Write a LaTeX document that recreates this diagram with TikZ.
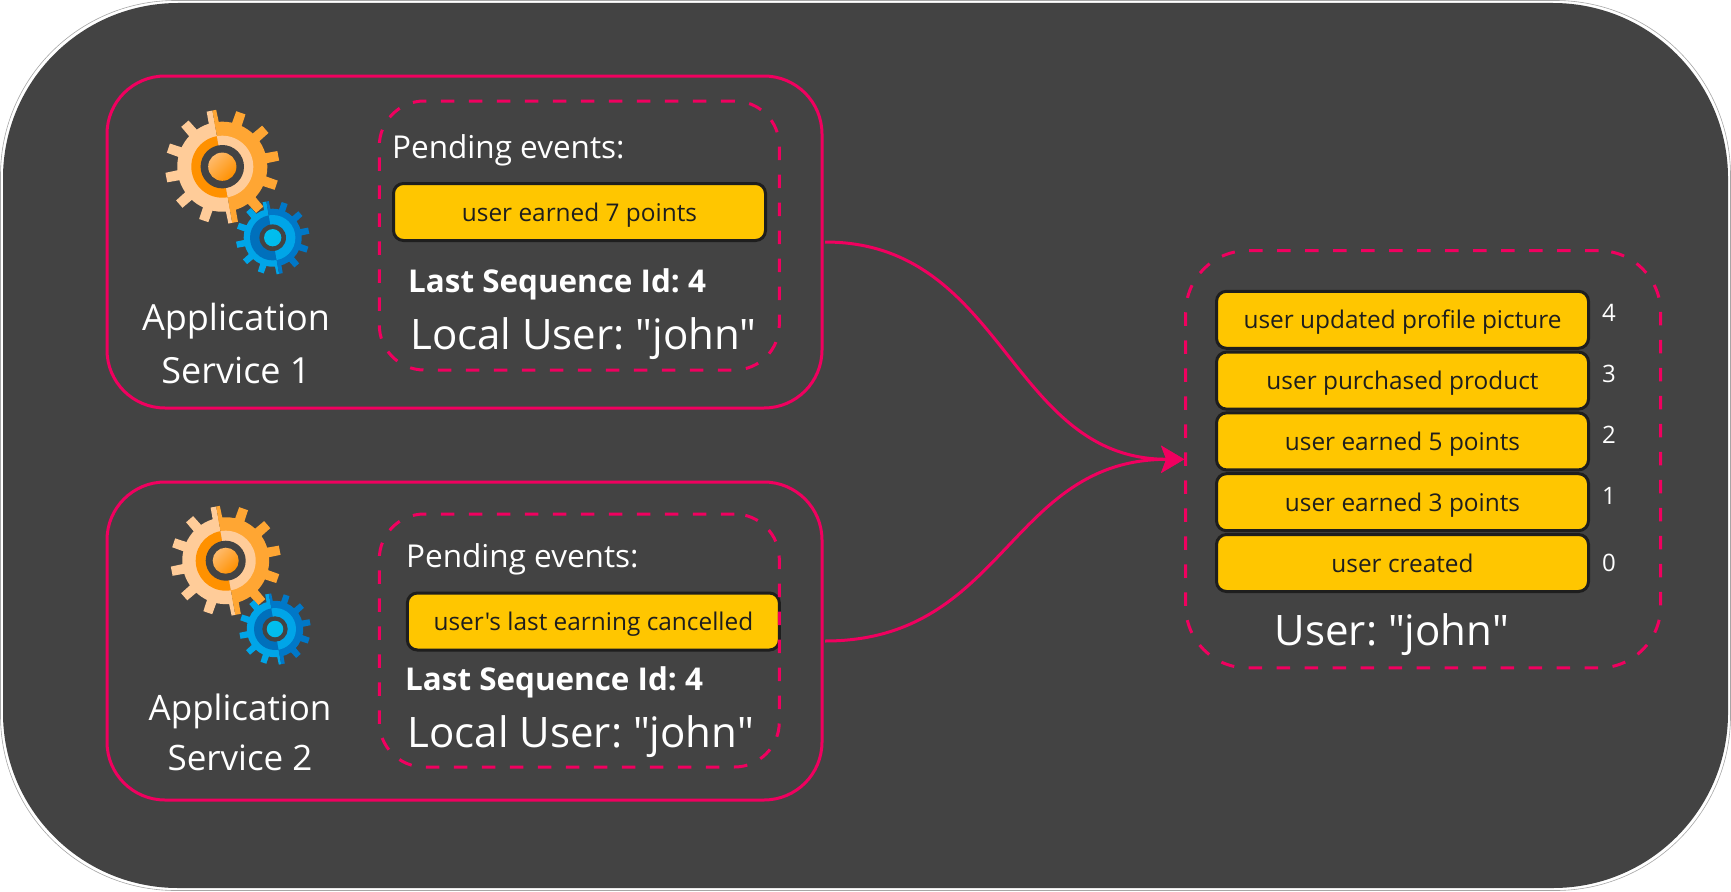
\documentclass[tikz,border=0pt]{standalone}
\usepackage{fontspec}
\setmainfont{Open Sans}[Ligatures=TeXOff]
\usepackage{xcolor}
\usetikzlibrary{
    positioning,
    arrows.meta
}
\frenchspacing
\definecolor{canvasgray}{HTML}{434343}
\definecolor{linkpink}{HTML}{F0005F}
\definecolor{eventyellow}{HTML}{FFC600}
\definecolor{eventink}{HTML}{1E1E1E}
\definecolor{gearpale}{HTML}{FFCC99}
\definecolor{gearorange}{HTML}{FFA633}
\definecolor{geardeep}{HTML}{FF9100}
\definecolor{gearsky}{HTML}{00A5E8}
\definecolor{gearblue}{HTML}{0078C8}
\definecolor{geardark}{HTML}{0070BC}
\definecolor{gearcyan}{HTML}{00BFEE}
% one half of a gear: body colour, ring colour, tooth radius, ring radius
\newcommand{\gearhalf}[4]{
    \foreach \a in {11,41,...,341} {
        \fill[#1, rotate=\a] (0.7*#3,-0.09*#3) -- (#3,-0.085*#3) -- (#3,0.085*#3) -- (0.7*#3,0.09*#3) -- cycle;
    }
    \fill[#1] (0,0) circle[radius=0.79*#3 pt];
    \fill[#2] (0,0) circle[radius=#4 pt];
}
% x, y, tooth radius, ring radius, hole radius, right body, left body, left ring, disc style
\newcommand{\drawgear}[9]{
    \begin{scope}[shift={(#1,#2)}]
        \begin{scope}
            \clip (-100:3*#3) -- (-190:3*#3) -- (-280:3*#3) -- cycle;
            \gearhalf{#7}{#8}{#3}{#4}
        \end{scope}
        \begin{scope}
            \clip (-100:3*#3) -- (-10:3*#3) -- (80:3*#3) -- cycle;
            \gearhalf{#6}{#7}{#3}{#4}
        \end{scope}
        \fill[canvasgray] (0,0) circle[radius=#5 pt];
        \shade[#9] (0,0) circle[radius=0.65*#5 pt];
    \end{scope}
}
\begin{document}
\begin{tikzpicture}[
    x=1pt, y=-1pt,
    node distance=0.8pt,
    canvas/.style={
        rectangle,
        inner sep=0pt,
        outer sep=0pt,
        minimum width=#1,
        rounded corners=175pt
    },
    service/.style={
        rectangle,
        draw=linkpink,
        line width=3pt,
        inner sep=0pt,
        outer sep=0pt,
        minimum width=715pt,
        rounded corners=58pt
    },
    group/.style={
        rectangle,
        draw=linkpink,
        line width=3pt,
        dash pattern=on 13.5pt off 14.5pt,
        inner sep=0pt,
        outer sep=0pt,
        rounded corners=45pt
    },
    event/.style={
        rectangle,
        draw=eventink,
        fill=eventyellow,
        line width=3pt,
        inner sep=0pt,
        rounded corners=10pt,
        minimum width=372pt,
        minimum height=57pt,
        text=eventink,
        text height=20pt,
        text depth=2pt,
        font=\fontsize{24.4}{30}\selectfont
    },
    orangedisc/.style={top color=gearpale!70!geardeep, bottom color=geardeep, shading=axis, shading angle=45},
    bluedisc/.style={top color=gearcyan, bottom color=gearcyan!85!gearsky, shading=axis, shading angle=45},
    seqnum/.style={inner sep=0pt, text=white, font=\fontsize{24}{28}\selectfont},
    caption/.style={inner sep=0pt, text=white, align=center, font=\fontsize{35}{50}\selectfont},
    pending/.style={anchor=base west, inner sep=0pt, text=white, font=\fontsize{31.5}{36}\selectfont},
    lastseq/.style={anchor=base west, inner sep=0pt, text=white, font=\fontsize{31.4}{36}\selectfont\bfseries},
    localuser/.style={anchor=base west, inner sep=0pt, text=white, font=\fontsize{42}{50}\selectfont},
    arrow/.style={-{Stealth[length=23pt, width=27pt, inset=5pt]}, line width=3pt, color=linkpink}
]
\useasboundingbox (0,0) rectangle (1731,891);

% Page outline and dark panel
\node[canvas=1730pt, draw=gray!70, line width=0.6pt, minimum height=890pt] (outline) at (865.5,445.5) {};
\node[canvas=1725pt, fill=canvasgray, minimum height=885pt] (panel) at (865.5,445.5) {};

% Service boxes
\node[service, minimum height=332pt] (serviceone) at (464.5,242) {};
\node[service, minimum height=318pt] (servicetwo) at (464.5,641) {};

% Gears
\drawgear{222.3}{166.7}{57}{31}{21.7}{gearorange}{gearpale}{geardeep}{orangedisc}
\drawgear{272.7}{237.7}{36.7}{22.7}{13.3}{gearblue}{gearsky}{geardark}{bluedisc}
\drawgear{225.7}{560.7}{55}{30}{20}{gearorange}{gearpale}{geardeep}{orangedisc}
\drawgear{275}{629}{35.7}{21}{12.7}{gearblue}{gearsky}{geardark}{bluedisc}

\node[caption, font=\fontsize{36}{53}\selectfont] (captionone) at (236,343) {Application\\Service 1};
\node[caption] (captiontwo) at (240,732) {Application\\Service 2};

% Pending events
\node[event] (earnedseven) at (579.5,212) {user earned 7 points};
\node[event] (cancelled) at (593.4,621.5) {user's last earning cancelled};

% Event store
\node[event] (updated) at (1402.5,319.8) {user updated profile picture};
\node[event, below=of updated] (purchased) {user purchased product};
\node[event, below=of purchased] (earnedfive) {user earned 5 points};
\node[event, below=of earnedfive] (earnedthree) {user earned 3 points};
\node[event, below=of earnedthree] (created) {user created};

% Sequence numbers
\node[seqnum] (seqfour) at (1609,313) {4};
\node[seqnum] (seqthree) at (1609,374) {3};
\node[seqnum] (seqtwo) at (1609,435) {2};
\node[seqnum] (seqone) at (1609,496) {1};
\node[seqnum] (seqzero) at (1609,562.7) {0};

% Dashed groups
\node[group, minimum width=400pt, minimum height=269pt] (localone) at (579.3,235.5) {};
\node[group, minimum width=400pt, minimum height=253pt] (localtwo) at (579.3,640.5) {};
\node[group, minimum width=475pt, minimum height=417.3pt, rounded corners=62pt] (store) at (1423.2,459.3) {};

% Labels inside the groups
\node[pending] (pendingone) at (392,158) {Pending events:};
\node[lastseq] (lastone) at (408,292.5) {Last Sequence Id: 4};
\node[localuser] (userone) at (410,349) {Local User: "john"};
\node[pending] (pendingtwo) at (406,567.5) {Pending events:};
\node[lastseq] (lasttwo) at (405,690.5) {Last Sequence Id: 4};
\node[localuser] (usertwo) at (407.5,747) {Local User: "john"};
\node[localuser] (userstore) at (1274.5,645.5) {User: "john"};

% Arrows into the store
\draw[arrow, shorten >=1.5pt] ([xshift=3pt]serviceone.east) .. controls +(180,0) and +(-177,0) .. (store.west);
\draw[arrow, shorten >=1.5pt] ([xshift=3pt]servicetwo.east) .. controls +(180,0) and +(-177,0) .. (store.west);

\end{tikzpicture}
\end{document}
